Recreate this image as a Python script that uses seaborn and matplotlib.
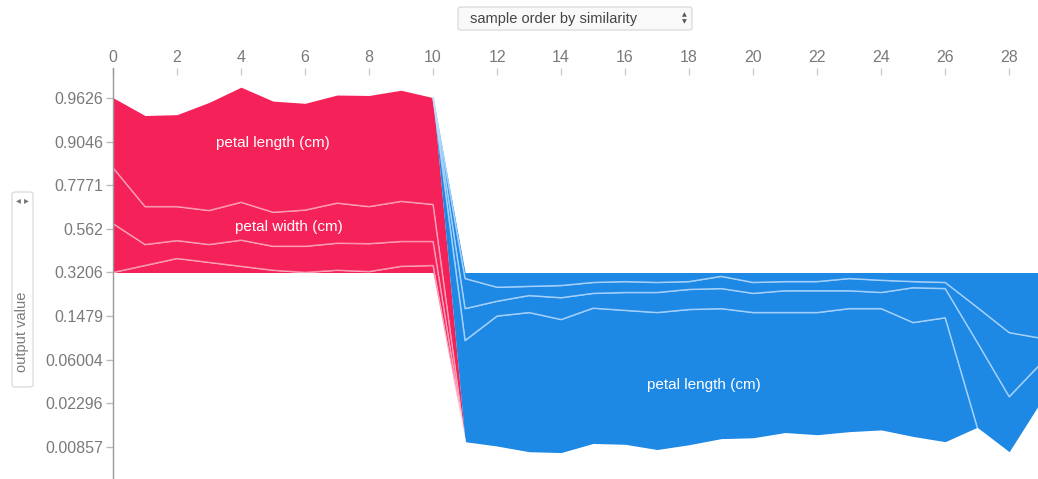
import numpy as np
import pandas as pd
import seaborn as sns
import matplotlib.pyplot as plt
from matplotlib.patches import FancyBboxPatch

# ---- data (SHAP effects in log-odds, one value per sample) ----
samples = np.arange(30)
base_value = 0.3206
tick_labels = ["0.00857", "0.02296", "0.06004", "0.1479", "0.3206",
               "0.562", "0.7771", "0.9046", "0.9626"]

# positive (red) contributions
pos_petal_length = [1.61, 2.09, 2.11, 2.48, 2.64, 2.55, 2.45, 2.48, 2.55, 2.55, 2.45] + [0] * 19
pos_petal_width = [1.28, 0.87, 0.78, 0.78, 0.87, 0.78, 0.83, 0.92, 0.85, 0.92, 0.85] + [0] * 19
pos_sepal_length = [1.12, 0.48, 0.41, 0.41, 0.60, 0.55, 0.60, 0.62, 0.64, 0.57, 0.55] + [0] * 19
pos_sepal_width = [0.00, 0.16, 0.32, 0.23, 0.14, 0.05, 0.00, 0.05, 0.02, 0.14, 0.16] + [0] * 19

# negative (blue) contributions, magnitudes
neg_petal_length = [0] * 11 + [2.32, 2.98, 3.19, 3.05, 3.10, 3.07, 3.14, 3.10, 2.98, 2.87,
                               2.75, 2.80, 2.82, 2.78, 2.61, 2.84, 0.00, 0.00, 0.00]
neg_petal_width = [0] * 11 + [0.73, 0.34, 0.39, 0.50, 0.34, 0.41, 0.46, 0.46, 0.46, 0.44,
                              0.50, 0.50, 0.41, 0.37, 0.80, 0.67, 1.95, 1.26, 0.87]
neg_sepal_length = [0] * 11 + [0.69, 0.32, 0.21, 0.28, 0.25, 0.25, 0.23, 0.18, 0.28, 0.25,
                               0.21, 0.21, 0.28, 0.28, 0.14, 0.14, 0.80, 1.47, 0.57]
neg_sepal_width = [0] * 11 + [0.14, 0.34, 0.32, 0.30, 0.23, 0.21, 0.23, 0.21, 0.09, 0.23,
                              0.21, 0.21, 0.14, 0.18, 0.21, 0.23, 0.80, 1.38, 1.51]

RED = "#f5225a"
BLUE = "#1e88e5"
GREY = "#7a7a7a"

sns.set_theme(style="white")
plt.rcParams['font.family'] = ['Liberation Sans', 'DejaVu Sans']

base_logit = np.log(base_value / (1 - base_value))
pos = np.array([pos_petal_length, pos_petal_width, pos_sepal_length, pos_sepal_width])
neg = np.array([neg_petal_length, neg_petal_width, neg_sepal_length, neg_sepal_width])
out = base_logit + pos.sum(axis=0) - neg.sum(axis=0)

# stacked boundaries: red goes down from output, blue goes up from output
red_b = out - np.vstack([np.zeros(len(samples)), np.cumsum(pos, axis=0)])
blue_b = out + np.vstack([np.zeros(len(samples)), np.cumsum(neg, axis=0)])

fig = plt.figure(figsize=(10.38, 4.79), dpi=100)
ax = fig.add_axes([113 / 1038, 0, 1 - 113 / 1038, 411 / 479])

for i in range(4):
    ax.fill_between(samples, red_b[i + 1], red_b[i], color=RED, lw=0)
    ax.fill_between(samples, blue_b[i], blue_b[i + 1], color=BLUE, lw=0)


def visible_points(line, edge):
    # skip segments where the boundary sits on the output edge at both ends
    gap = np.abs(line - edge) > 1e-6
    seg = gap[:-1] | gap[1:]
    keep = np.zeros(len(line), bool)
    keep[:-1] |= seg
    keep[1:] |= seg
    return keep


for i in range(1, 4):
    k = visible_points(red_b[i], red_b[0])
    df = pd.DataFrame({"x": samples[k], "y": red_b[i][k]})
    sns.lineplot(data=df, x="x", y="y", ax=ax, color="white", alpha=0.5, lw=1.1, sort=False)
    k = visible_points(blue_b[i], blue_b[0])
    df = pd.DataFrame({"x": samples[k], "y": blue_b[i][k]})
    sns.lineplot(data=df, x="x", y="y", ax=ax, color="#bfe0ff", alpha=0.8, lw=1.1, sort=False)

# feature labels
ax.text(5.0, base_logit + 2.97, "petal length (cm)", color="white", fontsize=11, ha="center", va="center")
ax.text(5.5, base_logit + 1.04, "petal width (cm)", color="white", fontsize=11, ha="center", va="center")
ax.text(18.45, base_logit - 2.58, "petal length (cm)", color="white", fontsize=11, ha="center", va="center")

ax.set_xlim(0, 28.9)
ax.set_ylim(-5.487, 3.939)
ax.set_xticks(np.arange(0, 29, 2))
ax.set_yticks(base_logit + np.arange(-4, 5))
ax.set_yticklabels(tick_labels)
ax.xaxis.tick_top()
ax.tick_params(axis="x", top=True, bottom=False, direction="in", length=5, width=1,
               color="#cccccc", labelsize=11.5, labelcolor=GREY, pad=2)
ax.tick_params(axis="y", left=True, length=5, width=1, color="#bbbbbb",
               labelsize=11.5, labelcolor=GREY, pad=2)
ax.set_xlabel("")
ax.set_ylabel("")
for s in ["top", "right", "bottom"]:
    ax.spines[s].set_visible(False)
ax.spines["left"].set_color("#999999")
ax.spines["left"].set_linewidth(1)

# dropdown at the top
fig.patches.append(FancyBboxPatch((458 / 1038, 1 - 30 / 479), 234 / 1038, 23 / 479,
                                  boxstyle="round,pad=0,rounding_size=0.004",
                                  fc="#f9f9f9", ec="#dddddd", lw=1, transform=fig.transFigure))
fig.text(470 / 1038, 1 - 18.5 / 479, "sample order by similarity", fontsize=10.5,
         color="#444444", ha="left", va="center")
fig.text(684 / 1038, 1 - 15 / 479, "\u25b2", fontsize=4.5, color="#555555", ha="center", va="center",
         family=["DejaVu Sans"])
fig.text(684 / 1038, 1 - 22 / 479, "\u25bc", fontsize=4.5, color="#555555", ha="center", va="center",
         family=["DejaVu Sans"])

# y-axis selector box
fig.patches.append(FancyBboxPatch((12 / 1038, 1 - 387 / 479), 21 / 1038, 195 / 479,
                                  boxstyle="round,pad=0,rounding_size=0.004",
                                  fc="white", ec="#dddddd", lw=1, transform=fig.transFigure))
fig.text(22 / 1038, 1 - 201 / 479, "\u25c2 \u25b8", fontsize=7, color="#777777", ha="center", va="center",
         family=["DejaVu Sans"])
fig.text(22 / 1038, 1 - 332 / 479, "output value", fontsize=10.5, color=GREY, rotation=90,
         ha="center", va="center")

fig.savefig("out.png", dpi=100)
